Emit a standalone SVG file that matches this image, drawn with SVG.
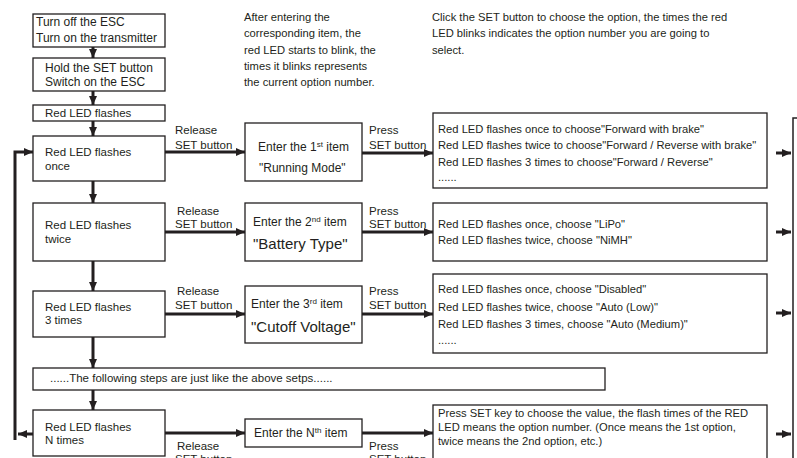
<svg xmlns="http://www.w3.org/2000/svg" width="797" height="458" viewBox="0 0 797 458">
<style>
text{font-family:"Liberation Sans",Arial,sans-serif;font-size:11.5px;fill:#231f20}
.l{font-size:12px}
.o{font-size:11.2px}
.n{font-size:11.2px}
.big{font-size:15px}
.box{fill:#fff;stroke:#231f20;stroke-width:1.3}
.con{stroke:#231f20;stroke-width:3;fill:none}
.thin{stroke:#231f20;stroke-width:1.5;fill:none}
</style>
<defs>
<marker id="ah" markerUnits="userSpaceOnUse" markerWidth="10" markerHeight="10" refX="9" refY="5" orient="auto">
<path d="M0,1 L9,5 L0,9 Z" fill="#231f20"/>
</marker>
</defs>
<rect width="797" height="458" fill="#fff"/>
<g id="notes">
<text class="n" x="244" y="21">After entering the</text>
<text class="n" x="244" y="37">corresponding item, the</text>
<text class="n" x="244" y="54">red LED starts to blink, the</text>
<text class="n" x="244" y="70">times it blinks represents</text>
<text class="n" x="244" y="86">the current option number.</text>
<text class="n" x="432" y="21">Click the SET button to choose the option, the times the red</text>
<text class="n" x="432" y="37">LED blinks indicates the option number you are going to</text>
<text class="n" x="432" y="54">select.</text>
</g>
<g id="connectors">
<line class="con" x1="93" y1="47" x2="93" y2="58" marker-end="url(#ah)"/>
<line class="con" x1="93" y1="91" x2="93" y2="105" marker-end="url(#ah)"/>
<line class="con" x1="93" y1="121" x2="93" y2="136" marker-end="url(#ah)"/>
<line class="con" x1="93" y1="181" x2="93" y2="203" marker-end="url(#ah)"/>
<line class="con" x1="93" y1="261" x2="93" y2="291" marker-end="url(#ah)"/>
<line class="con" x1="93" y1="337" x2="93" y2="368" marker-end="url(#ah)"/>
<line class="con" x1="93" y1="390" x2="93" y2="410" marker-end="url(#ah)"/>
<polyline class="con" points="15,440 15,152 33,152" marker-end="url(#ah)"/>
<line class="con" x1="33" y1="434" x2="18" y2="434" marker-end="url(#ah)"/>
<line class="con" x1="165" y1="152" x2="245" y2="152" marker-end="url(#ah)"/>
<line class="con" x1="362" y1="153" x2="433" y2="153" marker-end="url(#ah)"/>
<line class="con" x1="165" y1="232" x2="245" y2="232" marker-end="url(#ah)"/>
<line class="con" x1="362" y1="232" x2="433" y2="232" marker-end="url(#ah)"/>
<line class="con" x1="165" y1="314" x2="245" y2="314" marker-end="url(#ah)"/>
<line class="con" x1="362" y1="314" x2="433" y2="314" marker-end="url(#ah)"/>
<line class="con" x1="165" y1="433" x2="245" y2="433" marker-end="url(#ah)"/>
<line class="con" x1="362" y1="433" x2="433" y2="433" marker-end="url(#ah)"/>
<line class="con" x1="776" y1="153" x2="791" y2="153" marker-end="url(#ah)"/>
<line class="con" x1="776" y1="232" x2="791" y2="232" marker-end="url(#ah)"/>
<line class="con" x1="776" y1="313" x2="791" y2="313" marker-end="url(#ah)"/>
<line class="con" x1="776" y1="434" x2="791" y2="434" marker-end="url(#ah)"/>
<polyline class="thin" points="797,118 793,118 793,458"/>
<text x="175" y="134">Release</text>
<text x="175" y="149">SET button</text>
<text x="369" y="134">Press</text>
<text x="369" y="149">SET button</text>
<text x="177" y="215">Release</text>
<text x="175" y="228">SET button</text>
<text x="369" y="215">Press</text>
<text x="369" y="228">SET button</text>
<text x="177" y="295">Release</text>
<text x="175" y="309">SET button</text>
<text x="369" y="295">Press</text>
<text x="369" y="309">SET button</text>
<text x="177" y="450">Release</text>
<text x="175" y="463">SET button</text>
<text x="369" y="450">Press</text>
<text x="369" y="463">SET button</text>
</g>
<g id="n-start">
<rect class="box" x="33" y="14" width="132" height="33"/>
<text class="l" x="36" y="26">Turn off the ESC</text>
<text class="l" x="36" y="42">Turn on the transmitter</text>
</g>
<g id="n-hold">
<rect class="box" x="33" y="58" width="132" height="33"/>
<text class="l" x="45" y="72">Hold the SET button</text>
<text class="l" x="45" y="86">Switch on the ESC</text>
</g>
<g id="n-flash">
<rect class="box" x="33" y="105" width="132" height="16"/>
<text x="45" y="117">Red LED flashes</text>
</g>
<g id="n-once">
<rect class="box" x="33" y="136" width="132" height="45"/>
<text x="45" y="156">Red LED flashes</text>
<text x="45" y="170">once</text>
</g>
<g id="n-twice">
<rect class="box" x="33" y="203" width="132" height="58"/>
<text x="45" y="229">Red LED flashes</text>
<text x="45" y="243">twice</text>
</g>
<g id="n-3times">
<rect class="box" x="33" y="291" width="132" height="46"/>
<text x="45" y="311">Red LED flashes</text>
<text x="45" y="324">3 times</text>
</g>
<g id="n-following">
<rect class="box" x="33" y="368" width="572" height="22"/>
<text x="50" y="382">......The following steps are just like the above setps......</text>
</g>
<g id="n-ntimes">
<rect class="box" x="33" y="410" width="132" height="46"/>
<text x="45" y="431">Red LED flashes</text>
<text x="45" y="444">N times</text>
</g>
<g id="n-item1">
<rect class="box" x="245" y="123" width="117" height="58"/>
<text class="l" x="258" y="151">Enter the 1<tspan font-size="8" dy="-4">st</tspan><tspan dy="4"> item</tspan></text>
<text class="l" x="259" y="172">"Running Mode"</text>
</g>
<g id="n-item2">
<rect class="box" x="245" y="203" width="117" height="58"/>
<text class="l" x="253" y="226">Enter the 2<tspan font-size="8" dy="-4">nd</tspan><tspan dy="4"> item</tspan></text>
<text class="big" x="253" y="249">"Battery Type"</text>
</g>
<g id="n-item3">
<rect class="box" x="245" y="286" width="117" height="57"/>
<text class="l" x="251" y="308">Enter the 3<tspan font-size="8" dy="-4">rd</tspan><tspan dy="4"> item</tspan></text>
<text class="big" x="251" y="332">"Cutoff Voltage"</text>
</g>
<g id="n-itemN">
<rect class="box" x="245" y="419" width="117" height="28"/>
<text class="l" x="254" y="437">Enter the N<tspan font-size="8" dy="-4">th</tspan><tspan dy="4"> item</tspan></text>
</g>
<g id="n-opt1">
<rect class="box" x="433" y="113" width="334" height="75"/>
<text class="o" x="438" y="133">Red LED flashes once to choose"Forward with brake"</text>
<text class="o" x="438" y="149">Red LED flashes twice to choose"Forward / Reverse with brake"</text>
<text class="o" x="438" y="166">Red LED flashes 3 times to choose"Forward / Reverse"</text>
<text class="o" x="438" y="181">......</text>
</g>
<g id="n-opt2">
<rect class="box" x="433" y="203" width="334" height="58"/>
<text class="o" x="438" y="228">Red LED flashes once, choose "LiPo"</text>
<text class="o" x="438" y="244">Red LED flashes twice, choose "NiMH"</text>
</g>
<g id="n-opt3">
<rect class="box" x="433" y="274" width="334" height="79"/>
<text class="o" x="438" y="293">Red LED flashes once, choose "Disabled"</text>
<text class="o" x="438" y="311">Red LED flashes twice, choose "Auto (Low)"</text>
<text class="o" x="438" y="328">Red LED flashes 3 times, choose "Auto (Medium)"</text>
<text class="o" x="438" y="344">......</text>
</g>
<g id="n-optN">
<rect class="box" x="433" y="405" width="334" height="60"/>
<text class="o" x="438" y="417">Press SET key to choose the value, the flash times of the RED</text>
<text class="o" x="438" y="431">LED means the option number. (Once means the 1st option,</text>
<text class="o" x="438" y="445">twice means the 2nd option, etc.)</text>
</g>
</svg>
